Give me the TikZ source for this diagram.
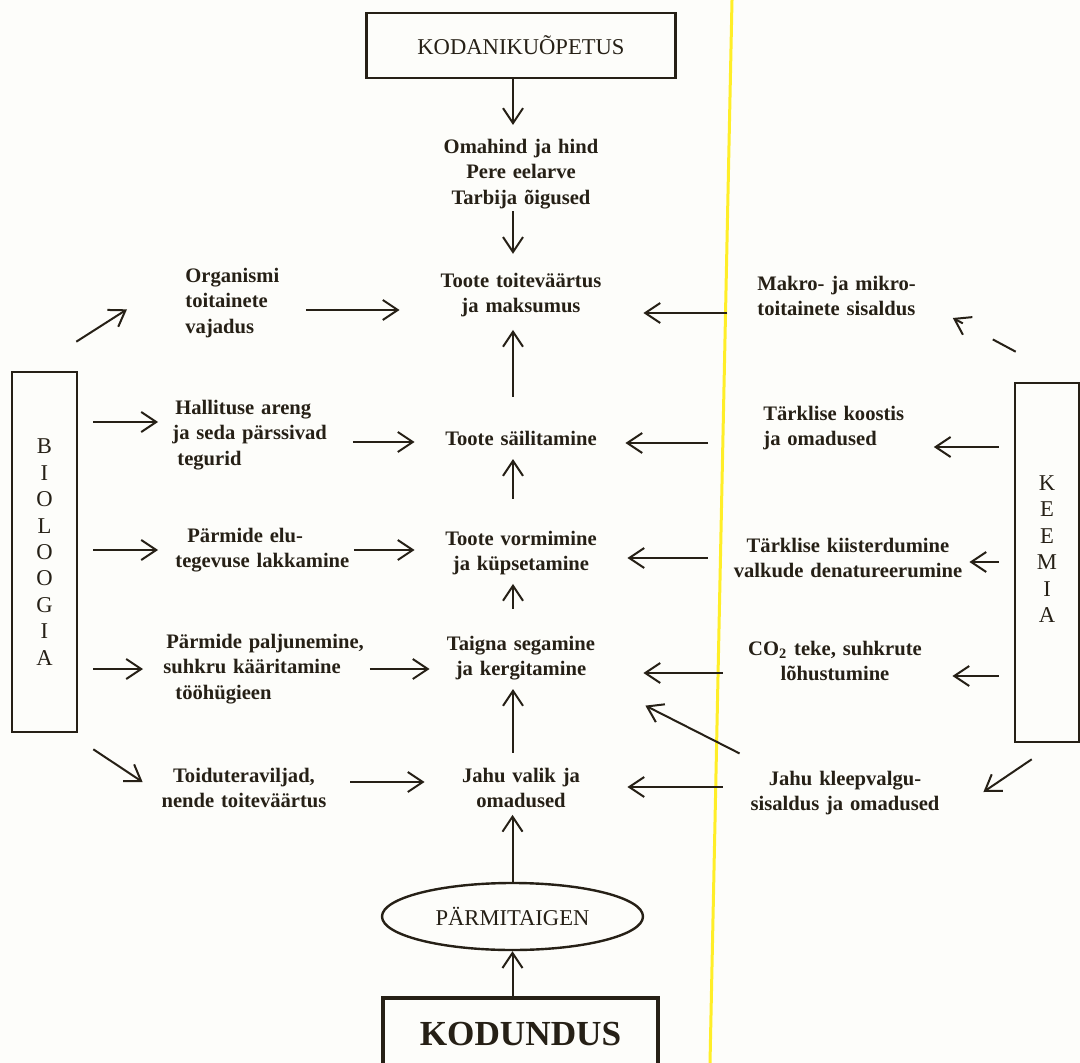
\documentclass[tikz,border=0pt]{standalone}
\usepackage{fontspec}
\setmainfont{Liberation Serif}
\usetikzlibrary{arrows.meta,positioning,calc,shapes.geometric}
\hyphenpenalty=10000 \exhyphenpenalty=10000
\definecolor{ink}{RGB}{38,32,22}
\definecolor{pap}{RGB}{253,253,250}
\definecolor{hl}{RGB}{255,238,40}
\tikzset{tc/.style={font=\fontsize{10.3}{12.8}\selectfont\bfseries,text=ink,inner sep=0pt,align=center,text width=86pt},
 tl/.style={tc,align=left,anchor=west},
 lt/.style={font=\fontsize{11.3}{13.2}\selectfont,text=ink,inner sep=0pt,align=center},
 bx/.style={draw=ink,line width=1.3pt,inner sep=0pt,text=ink},
 ell/.style={bx,ellipse,line width=1.2pt,minimum width=130.5pt,minimum height=33.5pt,font=\fontsize{11.3}{13}\selectfont},
 arr/.style={draw=ink,line width=1pt,-{Straight Barb[length=7.5pt,width=10pt]}},
 vsh/.style={transform canvas={yshift=#1}}}
\begin{document}
\begin{tikzpicture}[x=0.5pt,y=-0.5pt]
\fill[pap] (0,0) rectangle (1080,1063);
\useasboundingbox (0,0) rectangle (1080,1063);
\draw[hl,line width=1.5pt] (732,0)--(710,1063);
% middle column
\node[bx,minimum width=154.5pt,minimum height=32.5pt,font=\fontsize{11.3}{13}\selectfont] (kp) at (521,45.5) {KODANIKUÕPETUS};
\node[tc] (oh) at (521,174) {Omahind ja hind\\Pere eelarve\\Tarbija õigused};
\node[tc] (tv) at (521,295) {Toote toiteväärtus\\ja maksumus};
\node[tc] (ts) at (521,438) {Toote säilitamine};
\node[tc] (vk) at (521,553) {Toote vormimine\\ja küpsetamine};
\node[tc] (tk) at (521,658) {Taigna segamine\\ja kergitamine};
\node[tc] (jv) at (521,788) {Jahu valik ja\\omadused};
\node[ell] (pt) at (512.5,916.5) {PÄRMITAIGEN};
\node[bx,line width=1.6pt,minimum width=137.5pt,minimum height=36pt,font=\fontsize{17.6}{20}\selectfont\bfseries] (kd) at (520.5,1034) {KODUNDUS};
\draw[arr,shorten >=6.8pt] ([xshift=-4pt]kp.south)--([xshift=-4pt]oh.north);
\draw[arr,shorten <=1pt,shorten >=9.3pt] ([xshift=-4pt]oh.south)--([xshift=-4pt]tv.north);
\draw[arr,shorten <=16.8pt,shorten >=6.2pt] ([xshift=-4pt]ts.north)--([xshift=-4pt]tv.south);
\draw[arr,shorten <=15.8pt,shorten >=6.7pt] ([xshift=-4pt]vk.north)--([xshift=-4pt]ts.south);
\draw[arr,shorten <=13.3pt,shorten >=4.2pt] ([xshift=-4pt]tk.north)--([xshift=-4pt]vk.south);
\draw[arr,shorten <=7.3pt,shorten >=4.2pt] ([xshift=-4pt]jv.north)--([xshift=-4pt]tk.south);
\draw[arr,shorten >=3.2pt] (pt.north)--(pt.north |- jv.south);
\draw[arr] (pt.south |- kd.north)--(pt.south);
% biology side
\node[bx,lt,minimum width=32.5pt,minimum height=180pt] (bio) at (44.5,552) {B\\I\\O\\L\\O\\O\\G\\I\\A};
\node[tl,text width=52pt] (org) at (185,303) {Organismi\\toitainete\\vajadus};
\node[tl,text width=81pt] (hal) at (172,435) {\hspace*{1.5pt}Hallituse areng\\ja seda pärssivad\\\hspace*{2.5pt}tegurid};
\node[tl,text width=89pt] (pel) at (175,550) {\hspace*{6pt}Pärmide elu-\\tegevuse lakkamine};
\node[tl,text width=103pt] (ppl) at (163,669) {\hspace*{1.5pt}Pärmide paljunemine,\\suhkru kääritamine\\\hspace*{6pt}tööhügieen};
\node[tc,text width=87pt] (tdv) at (244,788) {Toiduteraviljad,\\nende toiteväärtus};
\draw[arr] ([shift={(-2,-29)}]bio.north east)--([shift={(-58,-29)}]org.south west);
\draw[arr,vsh=-3.5pt,shorten <=8pt,shorten >=17.5pt] (org.east)--(org.east -| tv.west);
\draw[arr,vsh=6.5pt,shorten <=7.5pt,shorten >=7pt] (bio.east |- hal.west)--(hal.west);
\draw[arr,vsh=-3.5pt,shorten <=9pt,shorten >=10pt] (hal.east)--(hal.east -| ts.west);
\draw[arr,shorten <=7.5pt,shorten >=8.5pt] (bio.east |- pel.west)--(pel.west);
\draw[arr,shorten >=10pt] (pel.east)--(pel.east -| vk.west);
\draw[arr,shorten <=7.5pt,shorten >=10pt] (bio.east |- ppl.west)--(ppl.west);
\draw[arr,shorten >=2.5pt] (ppl.east)--(ppl.east -| tk.west);
\draw[arr] ([shift={(15,16)}]bio.south east)--([shift={(-14,-6)}]tdv.west);
\draw[arr,vsh=3pt,shorten <=9.5pt,shorten >=5pt] (tdv.east)--(tdv.east -| jv.west);
% chemistry side
\node[bx,minimum width=32pt,minimum height=179.5pt] (kee) at (1047,562.5) {};
\node[lt] (keet) at (1047,549) {K\\E\\E\\M\\I\\A};
\node[tl,text width=84pt] (mak) at (757,296) {Makro- ja mikro-\\toitainete sisaldus};
\node[tl,text width=75pt] (tko) at (763,428) {Tärklise koostis\\ja omadused};
\node[tc,text width=121pt] (tki) at (848,558) {Tärklise kiisterdumine\\valkude denatureerumine};
\node[tc,text width=91pt] (co2) at (835,661) {CO\textsubscript{2} teke, suhkrute\\lõhustumine};
\node[tc,text width=101pt] (jkl) at (845,793) {Jahu kleepvalgu-\\sisaldus ja omadused};
\draw[arr,dash pattern=on 13pt off 17pt on 10pt] ([shift={(2,-30)}]kee.north west)--([shift={(27,22)}]mak.east);
\draw[arr,vsh=-8.5pt,shorten <=15pt,shorten >=18pt] (mak.west)--(mak.west -| tv.east);
\draw[arr,vsh=-9.5pt,shorten <=7.5pt,shorten >=10pt] (kee.west |- tko.east)--(tko.east);
\draw[arr,vsh=-7.5pt,shorten <=27.5pt,shorten >=9pt] (tko.west)--(tko.west -| ts.east);
\draw[arr,vsh=-2pt,shorten <=7.5pt] (kee.west |- tki.east)--(tki.east);
\draw[arr,shorten <=9.5pt,shorten >=10pt] (tki.west)--(tki.west -| vk.east);
\draw[arr,vsh=-7.5pt,shorten <=7.5pt,shorten >=13pt] (kee.west |- co2.east)--(co2.east);
\draw[arr,vsh=-6pt,shorten <=10.5pt,shorten >=18pt] (co2.west)--(co2.west -| tk.east);
\draw[arr] ([shift={(-4,-17)}]jkl.north west)--([shift={(38,25)}]tk.south east);
\draw[arr,vsh=3pt,shorten <=10.5pt,shorten >=10pt] (jkl.west)--(jkl.west -| jv.east);
\draw[arr] ([shift={(18,16)}]kee.south west)--([shift={(37,-1)}]jkl.east);
\end{tikzpicture}
\end{document}
